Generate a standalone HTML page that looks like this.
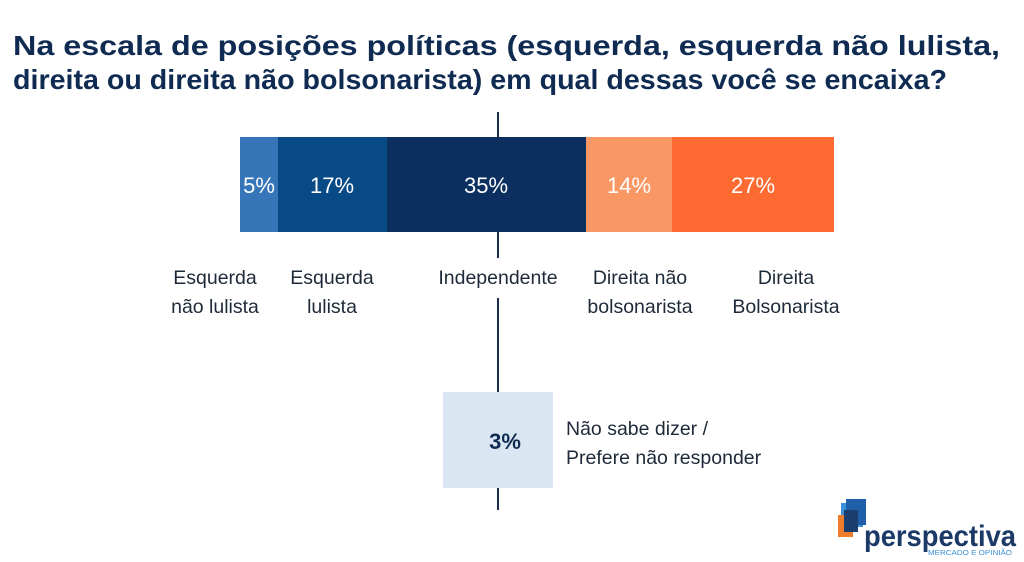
<!DOCTYPE html>
<html><head><meta charset="utf-8"><style>
html,body{margin:0;padding:0;background:#fff;}
svg{display:block;font-family:"Liberation Sans",sans-serif;}
</style></head><body>
<svg width="1024" height="562" viewBox="0 0 1024 562">
<text x="13" y="55" font-size="28" font-weight="bold" fill="#0f2b52" textLength="987" lengthAdjust="spacingAndGlyphs">Na escala de posições políticas (esquerda, esquerda não lulista,</text>
<text x="13" y="89" font-size="28" font-weight="bold" fill="#0f2b52" textLength="934" lengthAdjust="spacingAndGlyphs">direita ou direita não bolsonarista) em qual dessas você se encaixa?</text>
<line x1="498" y1="112" x2="498" y2="510" stroke="#1a2e4a" stroke-width="2"/>
<rect x="430" y="258" width="136" height="40" fill="#fff"/>
<rect x="240" y="137" width="38" height="95" fill="#3675b8"/>
<rect x="278" y="137" width="109" height="95" fill="#074a86"/>
<rect x="387" y="137" width="199" height="95" fill="#0b305f"/>
<rect x="586" y="137" width="86" height="95" fill="#f99865"/>
<rect x="672" y="137" width="162" height="95" fill="#fd6a32"/>
<g font-size="22" fill="#fff" text-anchor="middle">
<text x="259" y="193">5%</text>
<text x="332" y="193">17%</text>
<text x="486" y="193">35%</text>
<text x="629" y="193">14%</text>
<text x="753" y="193">27%</text>
</g>
<g font-size="19.5" fill="#1e2a3a" text-anchor="middle">
<text x="215" y="284">Esquerda</text><text x="215" y="313">não lulista</text>
<text x="332" y="284">Esquerda</text><text x="332" y="313">lulista</text>
<text x="498" y="284">Independente</text>
<text x="640" y="284">Direita não</text><text x="640" y="313">bolsonarista</text>
<text x="786" y="284">Direita</text><text x="786" y="313">Bolsonarista</text>
</g>
<rect x="443" y="392" width="110" height="96" fill="#dae7f3"/>
<text x="505" y="449" font-size="22" font-weight="bold" fill="#0f2b52" text-anchor="middle">3%</text>
<text x="566" y="435" font-size="19.5" fill="#1e2a3a">Não sabe dizer /</text>
<text x="566" y="464" font-size="19.5" fill="#1e2a3a">Prefere não responder</text>
<g>
<rect x="841" y="503" width="22" height="24" fill="#3b8fd6"/>
<rect x="846" y="499" width="20" height="26" fill="#1f5fa8"/>
<rect x="838" y="515" width="15" height="22" fill="#f07d2a"/>
<rect x="844" y="510" width="14" height="22" fill="#1c3e6e"/>
<text x="864" y="546" font-size="30" font-weight="bold" fill="#1b3a68" textLength="152" lengthAdjust="spacingAndGlyphs">perspectiva</text>
<text x="928" y="555" font-size="7" fill="#3b8fd6" textLength="84" lengthAdjust="spacingAndGlyphs">MERCADO E OPINIÃO</text>
</g>
</svg>
</body></html>
